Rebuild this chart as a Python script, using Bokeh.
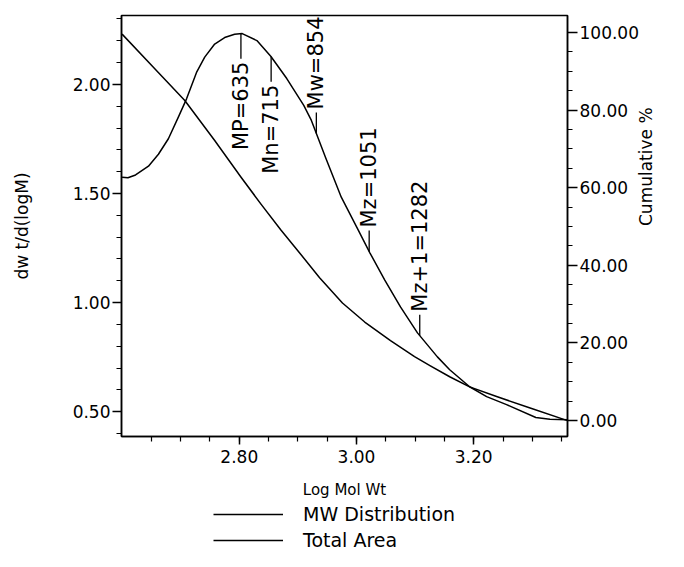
import math
import numpy as np
from bokeh.plotting import figure
from bokeh.layouts import column
from bokeh.models import (Range1d, LinearAxis, FixedTicker, PrintfTickFormatter,
                          Legend, LegendItem, ColumnDataSource)
from bokeh.core.properties import value
from bokeh.embed import file_html
from bokeh.resources import INLINE

# ---------------- data ----------------
log_mw = [2.600, 2.610, 2.623, 2.645, 2.662, 2.679, 2.696, 2.710, 2.727, 2.741,
          2.758, 2.775, 2.792, 2.805, 2.830, 2.854, 2.881, 2.910, 2.923, 2.947,
          2.974, 3.003, 3.023, 3.048, 3.075, 3.104, 3.138, 3.159, 3.193, 3.222,
          3.256, 3.306, 3.330, 3.360]
mw_dist = [1.575, 1.572, 1.585, 1.625, 1.680, 1.751, 1.850, 1.934, 2.055, 2.125,
           2.185, 2.215, 2.230, 2.233, 2.201, 2.128, 2.027, 1.904, 1.835, 1.666,
           1.483, 1.332, 1.227, 1.104, 0.980, 0.861, 0.751, 0.692, 0.614, 0.569,
           0.532, 0.473, 0.465, 0.463]

log_cum = [2.600, 2.657, 2.707, 2.758, 2.803, 2.837, 2.871, 2.903, 2.937, 2.976,
           3.014, 3.058, 3.099, 3.126, 3.159, 3.193, 3.239, 3.295, 3.360]
cum_pct = [99.6, 90.5, 82.5, 72.2, 62.7, 55.8, 49.1, 43.2, 36.8, 30.3,
           25.4, 20.6, 16.5, 14.1, 11.3, 8.7, 6.2, 3.3, 0.0]

marker_labels = ["MP=635", "Mn=715", "Mw=854", "Mz=1051", "Mz+1=1282"]
marker_mw = [635, 715, 854, 1051, 1282]

series_names = ["MW Distribution", "Total Area"]

x_major = [2.80, 3.00, 3.20]
left_major = [0.50, 1.00, 1.50, 2.00]
right_major = [0, 20, 40, 60, 80, 100]

# ---------------- main figure ----------------
X0, X1 = 2.599, 3.360
Y0, Y1 = 0.386, 2.316
R0, R1 = -4.1, 104.4
FRAME_H = 422

FONT = "DejaVu Sans"

p = figure(width=668, height=501, x_range=Range1d(X0, X1), y_range=Range1d(Y0, Y1),
           output_backend="svg", toolbar_location=None,
           min_border_left=121, min_border_right=96, min_border_top=15,
           min_border_bottom=64)
p.extra_y_ranges = {"cum": Range1d(R0, R1)}
p.grid.visible = False
p.outline_line_color = "black"
p.outline_line_width = 1.5
p.background_fill_color = "white"
p.border_fill_color = "white"

right = LinearAxis(y_range_name="cum")
p.add_layout(right, "right")

def style_axis(ax, label_size="17px"):
    ax.axis_line_color = "black"
    ax.axis_line_width = 1.5
    ax.major_tick_line_color = "black"
    ax.major_tick_line_width = 1.5
    ax.minor_tick_line_color = "black"
    ax.minor_tick_line_width = 1.2
    ax.major_tick_in = 0
    ax.minor_tick_in = 0
    ax.major_tick_out = 9
    ax.minor_tick_out = 5
    ax.major_label_text_font = FONT
    ax.major_label_text_font_size = "17px"
    ax.major_label_text_color = "black"
    ax.axis_label_text_font = FONT
    ax.axis_label_text_font_size = label_size
    ax.axis_label_text_font_style = "normal"
    ax.axis_label_text_color = "black"
    ax.formatter = PrintfTickFormatter(format="%.2f")

xa = p.xaxis[0]
style_axis(xa, "15px")
xa.ticker = FixedTicker(ticks=x_major,
                        minor_ticks=[round(2.65 + 0.05 * i, 2) for i in range(15)])
xa.axis_label = "Log Mol Wt"
xa.major_label_standoff = 5
xa.axis_label_standoff = 15
xa.major_tick_out = 8

ya = p.yaxis[0]
style_axis(ya)
ya.ticker = FixedTicker(ticks=left_major,
                        minor_ticks=[round(0.4 + 0.1 * i, 1) for i in range(20)])
ya.axis_label = "dw t/d(logM)"
ya.major_label_standoff = 2
ya.axis_label_standoff = 38

style_axis(right)
right.ticker = FixedTicker(ticks=right_major, minor_ticks=list(range(0, 101, 5)))
right.axis_label = "Cumulative %"
right.major_tick_out = 10
right.major_label_standoff = 2
right.axis_label_standoff = 4
if hasattr(right, "axis_label_orientation"):
    right.axis_label_orientation = math.pi / 2

# ---------------- curves ----------------
p.line(log_mw, mw_dist, line_color="black", line_width=1.5, line_join="round")
p.line(log_cum, cum_pct, y_range_name="cum", line_color="black",
       line_width=1.5, line_join="round")

# ---------------- markers ----------------
px_per_unit = FRAME_H / (Y1 - Y0)
mx = np.log10(np.array(marker_mw, dtype=float))
my = np.interp(mx, log_mw, mw_dist)
below = np.array([True, True, False, False, False])
tick_len = np.where(below, -25.0, 21.0) / px_per_unit
gap = np.where(below, -3.0, 3.0) / px_per_unit
y_end = my + tick_len
p.segment(x0=mx, y0=my, x1=mx, y1=y_end, line_color="black", line_width=1.3)

src = ColumnDataSource(dict(x=mx, y=y_end + gap, t=marker_labels,
                            align=["right" if b else "left" for b in below]))
p.text(x="x", y="y", text="t", source=src, angle=math.pi / 2,
       text_align="align", text_baseline="middle", text_font=value(FONT),
       text_font_size="21px", text_color="black")

# ---------------- legend (own strip below the chart, frame aligned) ----------------
lf = figure(width=668, height=50, x_range=Range1d(0, 1), y_range=Range1d(0, 1),
            output_backend="svg", toolbar_location=None,
            x_axis_location=None, y_axis_location=None,
            min_border_left=121, min_border_right=96, min_border_top=0,
            min_border_bottom=0)
lf.grid.visible = False
lf.outline_line_color = None
lf.background_fill_color = "white"
lf.border_fill_color = "white"
items = []
for name in series_names:
    # one placeholder row (NaN draws nothing) so the legend can show a line sample
    r = lf.line(x=np.array([np.nan]), y=np.array([np.nan]),
                line_color="black", line_width=1.5)
    items.append(LegendItem(label=name, renderers=[r]))
legend = Legend(items=items, location=(92, 0), orientation="vertical",
                glyph_width=70, glyph_height=20, label_height=20,
                label_standoff=20, spacing=4, padding=0, margin=0,
                border_line_alpha=0, background_fill_alpha=0,
                label_text_font=FONT, label_text_font_size="19px",
                label_text_color="black")
lf.add_layout(legend, "center")

layout = column(p, lf, spacing=0)
open("out.html", "w").write(file_html(layout, INLINE))
